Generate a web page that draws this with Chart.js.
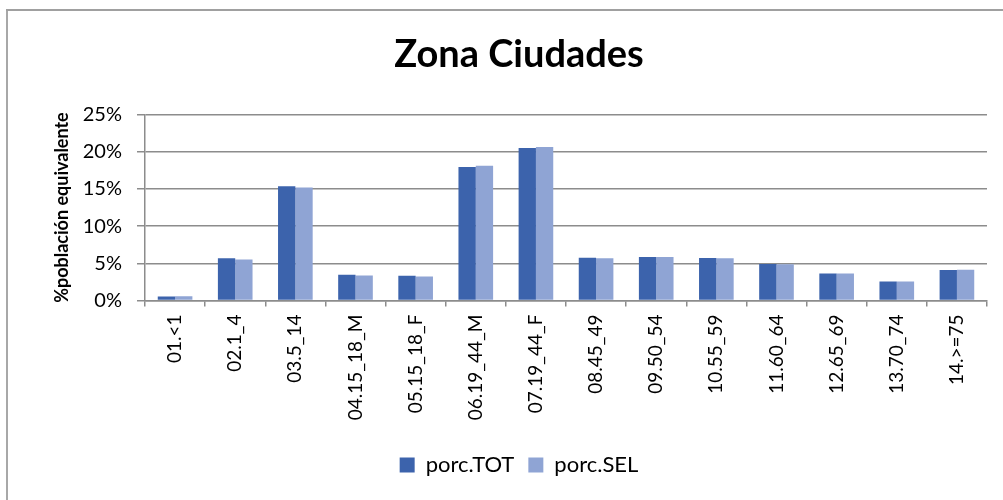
<!DOCTYPE html>
<html>
<head>
<meta charset="utf-8">
<script src="https://cdn.jsdelivr.net/npm/chart.js@4/dist/chart.umd.min.js"></script>
<style>
  html, body { margin: 0; padding: 0; background: #fff; }
  #wrap { position: relative; width: 1003px; height: 500px; overflow: hidden; }
  #c { position: absolute; left: 0; top: 0; }
  .bl { position: absolute; left: 6px; top: 9px; width: 2px; height: 491px; background: #a8a8a8; }
  .bt { position: absolute; left: 6px; top: 9px; width: 997px; height: 2px; background: #a0a0a0; }
</style>
</head>
<body>
<div id="wrap">
  <canvas id="c" width="1003" height="500"></canvas>
  <div class="bl"></div>
  <div class="bt"></div>
</div>
<script>
const chartTitle = 'Zona Ciudades';
const yAxisTitle = '%población equivalente';
const categories = ['01.<1', '02.1_4', '03.5_14', '04.15_18_M', '05.15_18_F', '06.19_44_M', '07.19_44_F',
  '08.45_49', '09.50_54', '10.55_59', '11.60_64', '12.65_69', '13.70_74', '14.>=75'];
const seriesNames = ['porc.TOT', 'porc.SEL'];
const porcTOT = [0.54, 5.67, 15.38, 3.46, 3.33, 17.94, 20.50, 5.76, 5.85, 5.71, 4.90, 3.64, 2.56, 4.09];
const porcSEL = [0.58, 5.53, 15.20, 3.37, 3.24, 18.12, 20.64, 5.67, 5.85, 5.67, 4.86, 3.64, 2.56, 4.14];
const yTicks = [0, 5, 10, 15, 20, 25];

const FONT = 'Lato, "Open Sans", sans-serif';

new Chart(document.getElementById('c'), {
  type: 'bar',
  data: {
    labels: categories,
    datasets: [
      { label: seriesNames[0], data: porcTOT, backgroundColor: '#3c63ac', borderWidth: 0 },
      { label: seriesNames[1], data: porcSEL, backgroundColor: '#8fa4d4', borderWidth: 0 }
    ]
  },
  options: {
    responsive: false,
    animation: false,
    devicePixelRatio: 1,
    categoryPercentage: 0.576,
    barPercentage: 1,
    layout: { padding: { left: 51, right: 16, top: 0, bottom: 14 } },
    plugins: {
      tooltip: { enabled: false },
      title: {
        display: true,
        text: chartTitle,
        color: '#000',
        font: { family: FONT, size: 38, weight: 'bold' },
        padding: { top: 32, bottom: 37 }
      },
      legend: {
        display: true,
        position: 'bottom',
        labels: {
          color: '#000',
          font: { family: FONT, size: 22 },
          boxWidth: 15,
          boxHeight: 15,
          padding: 14
        }
      }
    },
    scales: {
      x: {
        grid: { drawOnChartArea: false, drawTicks: true, tickLength: 6, color: '#8c8c8c', lineWidth: 1.5 },
        border: { color: '#8c8c8c', width: 1.5 },
        ticks: {
          color: '#000',
          font: { family: FONT, size: 19 },
          minRotation: 90,
          maxRotation: 90,
          autoSkip: false,
          padding: 8
        },
        afterFit: (s) => { s.height = 139.5; }
      },
      y: {
        min: 0,
        max: 25,
        afterBuildTicks: (s) => { s.ticks = yTicks.map(v => ({ value: v })); },
        grid: { color: '#8c8c8c', lineWidth: 1.5, tickLength: 8 },
        border: { color: '#8c8c8c', width: 1.5 },
        ticks: {
          color: '#000',
          font: { family: FONT, size: 20 },
          padding: 15,
          callback: (v) => v + '%'
        },
        title: {
          display: true,
          text: yAxisTitle,
          color: '#000',
          font: { family: FONT, size: 18, weight: 'bold' },
          padding: 0
        },
        afterFit: (s) => { s.width = 94; }
      }
    }
  }
});
</script>
</body>
</html>
